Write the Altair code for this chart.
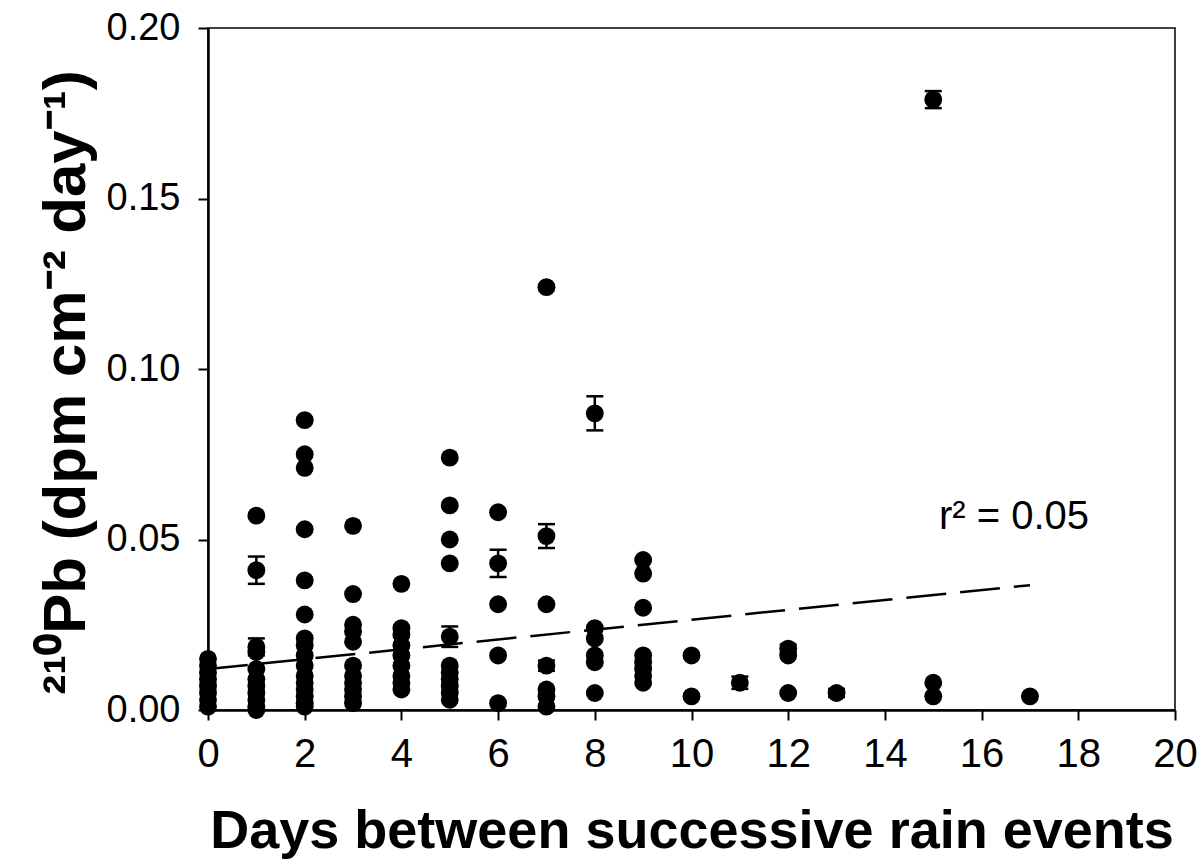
import altair as alt
import pandas as pd

# Days between rain events (x) and 210Pb flux (y)
days = ([0]*8 + [1]*11 + [2]*16 + [3]*11 + [4]*9 + [5]*11 + [6]*5 + [7]*7 +
        [8]*6 + [9]*8 + [10]*2 + [11] + [12]*3 + [13] + [15]*3 + [17])
pb = [0.015, 0.013, 0.011, 0.009, 0.007, 0.005, 0.003, 0.001,
      0.057, 0.041, 0.0185, 0.017, 0.012, 0.009, 0.007, 0.005, 0.003, 0.001, 0.0,
      0.085, 0.075, 0.071, 0.053, 0.038, 0.028, 0.021, 0.019, 0.016, 0.013, 0.010, 0.008, 0.006, 0.004, 0.002, 0.001,
      0.054, 0.034, 0.025, 0.023, 0.020, 0.013, 0.010, 0.008, 0.006, 0.004, 0.002,
      0.037, 0.024, 0.022, 0.019, 0.016, 0.013, 0.010, 0.008, 0.006,
      0.074, 0.060, 0.050, 0.043, 0.0215, 0.013, 0.011, 0.009, 0.007, 0.005, 0.003,
      0.058, 0.043, 0.031, 0.016, 0.002,
      0.124, 0.051, 0.031, 0.013, 0.006, 0.004, 0.001,
      0.087, 0.024, 0.021, 0.016, 0.014, 0.005,
      0.044, 0.040, 0.030, 0.016, 0.014, 0.012, 0.010, 0.008,
      0.016, 0.004,
      0.008,
      0.018, 0.016, 0.005,
      0.005,
      0.179, 0.008, 0.004,
      0.004]

# Points with visible error bars: day, value, half-width
eb_days = [1, 1, 5, 6, 7, 7, 8, 11, 12, 13, 15]
eb_vals = [0.041, 0.0185, 0.0215, 0.043, 0.051, 0.013, 0.087, 0.008, 0.018, 0.005, 0.179]
eb_err = [0.004, 0.0025, 0.003, 0.004, 0.0035, 0.0015, 0.005, 0.0018, 0.0012, 0.0012, 0.0025]

trend_x = [0, 17]
trend_y = [0.012, 0.0366]

note_x = [16.67]
note_y = [0.0565]
note_txt = ["r² = 0.05"]

df = pd.DataFrame({"days": days, "pb": pb})
eb = pd.DataFrame({"days": eb_days, "pb": eb_vals, "err": eb_err})
eb["lo"] = eb["pb"] - eb["err"]
eb["hi"] = eb["pb"] + eb["err"]

xs = alt.Scale(domain=[0, 20], nice=False, zero=False)
ys = alt.Scale(domain=[0, 0.2], nice=False)

x_axis = alt.Axis(
    title="Days between successive rain events",
    values=list(range(0, 21, 2)), format="d", grid=False, labelFlush=False,
    labelFontSize=40, labelFont="Liberation Sans", labelColor="black",
    labelPadding=14, tickSize=10, tickWidth=2, tickColor="black",
    domainColor="black", domainWidth=2.5,
    titleFontSize=54, titleFont="Liberation Sans", titleFontWeight="bold",
    titleColor="black", titleBaseline="alphabetic", titleY=137, titleAlign="center",
)
y_axis = alt.Axis(
    title="²¹⁰Pb (dpm cm⁻² day⁻¹)",
    values=[0, 0.05, 0.10, 0.15, 0.20], format=".2f", grid=False, labelFlush=False,
    labelFontSize=38, labelFont="Liberation Sans", labelColor="black",
    labelPadding=18, tickSize=10, tickWidth=2, tickColor="black",
    domainColor="black", domainWidth=2.5,
    titleFontSize=60, titleFont="Liberation Sans", titleFontWeight="bold",
    titleColor="black", titleAngle=-90, titleBaseline="alphabetic",
    titleX=-124, titleY=354, titleAlign="center",
)

trend = alt.Chart(pd.DataFrame({"x": trend_x, "y": trend_y})).mark_line(
    color="black", strokeWidth=2.5, strokeDash=[40, 14]
).encode(x=alt.X("x:Q", scale=xs, axis=x_axis), y=alt.Y("y:Q", scale=ys, axis=y_axis))

rules = alt.Chart(eb).mark_rule(color="black", strokeWidth=2.5, opacity=1).encode(
    x=alt.X("days:Q", scale=xs), y=alt.Y("lo:Q", scale=ys), y2="hi:Q")
cap_lo = alt.Chart(eb).mark_tick(color="black", orient="horizontal", size=17, thickness=2.5, opacity=1).encode(
    x=alt.X("days:Q", scale=xs), y=alt.Y("lo:Q", scale=ys))
cap_hi = alt.Chart(eb).mark_tick(color="black", orient="horizontal", size=17, thickness=2.5, opacity=1).encode(
    x=alt.X("days:Q", scale=xs), y=alt.Y("hi:Q", scale=ys))

pts = alt.Chart(df).mark_point(filled=True, color="black", size=320, opacity=1, shape="circle").encode(
    x=alt.X("days:Q", scale=xs), y=alt.Y("pb:Q", scale=ys))

note = alt.Chart(pd.DataFrame({"x": note_x, "y": note_y, "t": note_txt})).mark_text(
    font="Liberation Sans", fontSize=40, color="black", align="center", baseline="middle"
).encode(x=alt.X("x:Q", scale=xs), y=alt.Y("y:Q", scale=ys), text="t:N")

chart = alt.layer(trend, rules, cap_lo, cap_hi, pts, note).properties(
    width=967, height=682,
    autosize=alt.AutoSizeParams(type="none"),
    padding={"left": 208, "top": 28, "right": 27, "bottom": 151},
    background="white",
).configure_view(stroke="black", strokeWidth=1.5)

chart.save("out.html", embed_options={"renderer": "svg", "actions": False})
